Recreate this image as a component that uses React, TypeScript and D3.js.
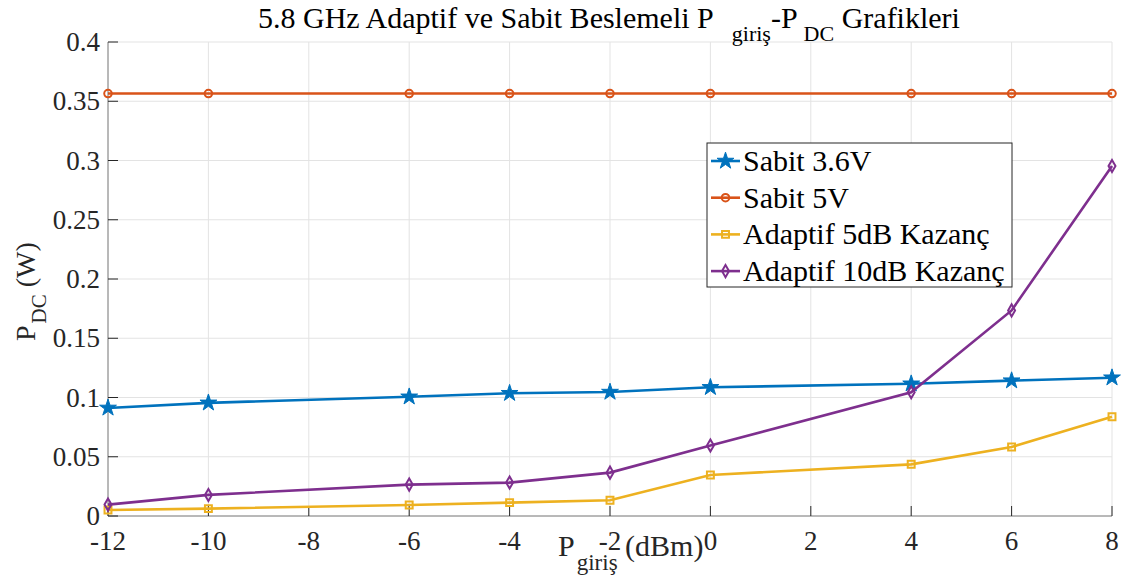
import * as d3 from 'd3'

const pGiris = [-12, -10, -6, -4, -2, 0, 4, 6, 8]
const sabit36 = [0.0912, 0.0955, 0.1006, 0.1036, 0.1046, 0.1086, 0.1116, 0.1142, 0.1167]
const sabit5 = [0.3565, 0.3565, 0.3565, 0.3565, 0.3565, 0.3565, 0.3565, 0.3565, 0.3565]
const adaptif5 = [0.0051, 0.0062, 0.0093, 0.0113, 0.0133, 0.0346, 0.0436, 0.0582, 0.0838]
const adaptif10 = [0.0096, 0.0178, 0.0265, 0.0282, 0.0366, 0.0595, 0.1044, 0.1735, 0.2954]

const xTicks = [-12, -10, -8, -6, -4, -2, 0, 2, 4, 6, 8]
const yTicks = [0, 0.05, 0.1, 0.15, 0.2, 0.25, 0.3, 0.35, 0.4]

const seriesNames = ['Sabit 3.6V', 'Sabit 5V', 'Adaptif 5dB Kazanç', 'Adaptif 10dB Kazanç']

const width = 1122
const height = 581
const left = 108
const right = 1112
const top = 42
const bottom = 516
const font = 'Liberation Serif, Times New Roman, serif'

const x = d3.scaleLinear().domain([-12, 8]).range([left, right])
const y = d3.scaleLinear().domain([0, 0.4]).range([bottom, top])

const series = [
  { name: seriesNames[0], values: sabit36, color: '#0072BD', marker: 'star' },
  { name: seriesNames[1], values: sabit5, color: '#D95319', marker: 'circle' },
  { name: seriesNames[2], values: adaptif5, color: '#EDB120', marker: 'square' },
  { name: seriesNames[3], values: adaptif10, color: '#7E2F8E', marker: 'diamond' },
]

const symbols: Record<string, any> = {
  star: d3.symbol(d3.symbolStar, 88),
  circle: d3.symbol(d3.symbolCircle, 45),
  square: d3.symbol(d3.symbolSquare, 48),
  diamond: d3.symbol(d3.symbolDiamond, 42),
}

function Marker({ type, color, cx, cy }: { type: string; color: string; cx: number; cy: number }) {
  const filled = type === 'star'
  return (
    <path
      d={symbols[type]()}
      transform={`translate(${cx},${cy})`}
      fill={filled ? color : 'none'}
      stroke={color}
      strokeWidth={filled ? 1 : 2}
    />
  )
}

export default function App() {
  const line = d3
    .line<number>()
    .x((_, i) => x(pGiris[i]))
    .y((d) => y(d))

  const legX = 707
  const legY = 143
  const rowH = 36.7

  return (
    <svg
      width={width}
      height={height}
      style={{ position: 'fixed', left: 0, top: 0, background: '#fff' }}
      fontFamily={font}
    >
      <rect width={width} height={height} fill="#fff" />
      {/* grid */}
      {xTicks.map((t) => (
        <line key={'gx' + t} x1={x(t)} x2={x(t)} y1={top} y2={bottom} stroke="#e3e3e3" strokeWidth={1} />
      ))}
      {yTicks.map((t) => (
        <line key={'gy' + t} x1={left} x2={right} y1={y(t)} y2={y(t)} stroke="#e3e3e3" strokeWidth={1} />
      ))}
      {/* axes */}
      <line x1={left} x2={left} y1={top} y2={bottom} stroke="#808080" strokeWidth={1} />
      <line x1={left} x2={right} y1={bottom} y2={bottom} stroke="#808080" strokeWidth={1} />
      {xTicks.map((t) => (
        <g key={'tx' + t}>
          <line x1={x(t)} x2={x(t)} y1={bottom} y2={bottom - 10} stroke="#262626" strokeWidth={1} />
          <text x={x(t)} y={550} textAnchor="middle" fontSize={27} fontFamily={font} fill="#262626">
            {t}
          </text>
        </g>
      ))}
      {yTicks.map((t) => (
        <g key={'ty' + t}>
          <line x1={left} x2={left + 10} y1={y(t)} y2={y(t)} stroke="#262626" strokeWidth={1} />
          <text x={100} y={y(t) + 9} textAnchor="end" fontSize={27} fontFamily={font} fill="#262626">
            {t}
          </text>
        </g>
      ))}
      {/* lines */}
      {series.map((s) => (
        <g key={s.name}>
          <path d={line(s.values) || ''} fill="none" stroke={s.color} strokeWidth={2.6} />
          {s.values.map((v, i) => (
            <Marker key={i} type={s.marker} color={s.color} cx={x(pGiris[i])} cy={y(v)} />
          ))}
        </g>
      ))}
      {/* title */}
      <text x={258} y={28} fontSize={30} fontFamily={font} fill="#000">
        5.8 GHz Adaptif ve Sabit Beslemeli P
        <tspan dx={18} dy={13} fontSize={22}>giriş</tspan>
        <tspan dy={-13}>-P</tspan>
        <tspan dx={6} dy={13} fontSize={22}>DC</tspan>
        <tspan dy={-13}> Grafikleri</tspan>
      </text>
      {/* x label */}
      <text x={558} y={556} fontSize={30} fontFamily={font} fill="#262626">
        P
        <tspan dx={2} dy={14} fontSize={23}>giriş</tspan>
        <tspan dy={-14}> (dBm)</tspan>
      </text>
      {/* y label */}
      <text transform="translate(35,341) rotate(-90)" fontSize={28} fontFamily={font} fill="#262626">
        P
        <tspan dx={2} dy={11} fontSize={21}>DC</tspan>
        <tspan dy={-11}> (W)</tspan>
      </text>
      {/* legend */}
      <rect x={legX} y={legY} width={305} height={144} fill="#fff" stroke="#262626" strokeWidth={1} />
      {series.map((s, i) => {
        const cy = legY + 18 + i * rowH
        return (
          <g key={'leg' + s.name}>
            <line x1={711} x2={740} y1={cy} y2={cy} stroke={s.color} strokeWidth={2.6} />
            <Marker type={s.marker} color={s.color} cx={725.5} cy={cy} />
            <text x={743} y={cy + 10} fontSize={30} fontFamily={font} fill="#000">
              {s.name}
            </text>
          </g>
        )
      })}
    </svg>
  )
}
